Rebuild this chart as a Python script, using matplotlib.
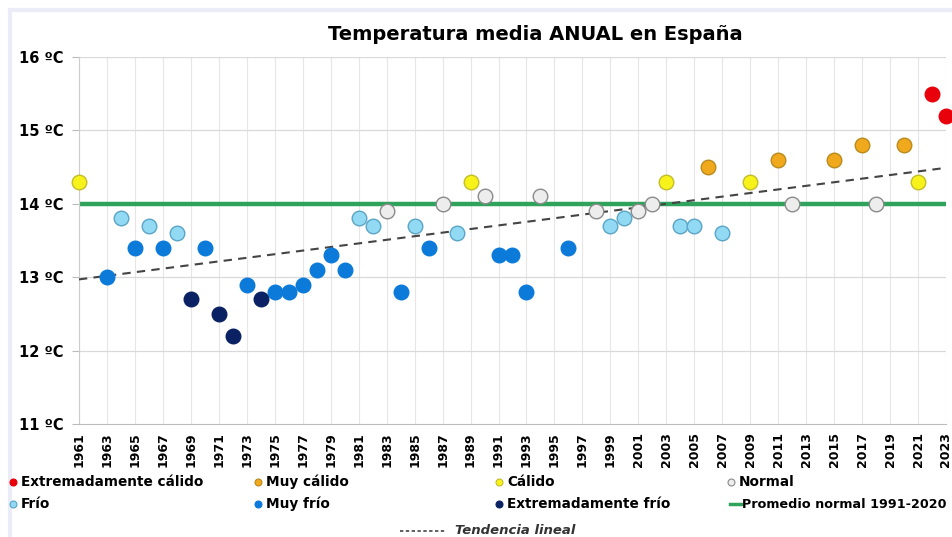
import numpy as np
import matplotlib.pyplot as plt
from matplotlib.lines import Line2D
from matplotlib.patches import Rectangle

# annual mean temperature in Spain; years not drawn are left out
years = [1961, 1963, 1964, 1965, 1966, 1967, 1968, 1969, 1970, 1971, 1972, 1973,
         1974, 1975, 1976, 1977, 1978, 1979, 1980, 1981, 1982, 1983, 1984, 1985,
         1986, 1987, 1988, 1989, 1990, 1991, 1992, 1993, 1994, 1996, 1998, 1999,
         2000, 2001, 2002, 2003, 2004, 2005, 2006, 2007, 2009, 2011, 2012, 2015,
         2017, 2018, 2020, 2021, 2022, 2023]
temps = [14.3, 13.0, 13.8, 13.4, 13.7, 13.4, 13.6, 12.7, 13.4, 12.5, 12.2, 12.9,
         12.7, 12.8, 12.8, 12.9, 13.1, 13.3, 13.1, 13.8, 13.7, 13.9, 12.8, 13.7,
         13.4, 14.0, 13.6, 14.3, 14.1, 13.3, 13.3, 12.8, 14.1, 13.4, 13.9, 13.7,
         13.8, 13.9, 14.0, 14.3, 13.7, 13.7, 14.5, 13.6, 14.3, 14.6, 14.0, 14.6,
         14.8, 14.0, 14.8, 14.3, 15.5, 15.2]
# EC extremadamente cálido, MC muy cálido, C cálido, N normal,
# F frío, MF muy frío, EF extremadamente frío
cats = ['C', 'MF', 'F', 'MF', 'F', 'MF', 'F', 'EF', 'MF', 'EF', 'EF', 'MF',
        'EF', 'MF', 'MF', 'MF', 'MF', 'MF', 'MF', 'F', 'F', 'N', 'MF', 'F',
        'MF', 'N', 'F', 'C', 'N', 'MF', 'MF', 'MF', 'N', 'MF', 'N', 'F',
        'F', 'N', 'N', 'C', 'F', 'F', 'MC', 'F', 'C', 'MC', 'N', 'MC',
        'MC', 'N', 'MC', 'C', 'EC', 'EC']

normal_mean = 14.0
trend_years = [1961, 2023]
trend_vals = [12.97, 14.49]

cat_order = ['EC', 'MC', 'C', 'N', 'F', 'MF', 'EF']
cat_names = {'EC': 'Extremadamente cálido', 'MC': 'Muy cálido', 'C': 'Cálido',
             'N': 'Normal', 'F': 'Frío', 'MF': 'Muy frío',
             'EF': 'Extremadamente frío'}
face = {'EC': '#e8000b', 'MC': '#f0a81c', 'C': '#f7f21a', 'N': '#ededed',
        'F': '#92d9f3', 'MF': '#0b7ad9', 'EF': '#0a2263'}
edge = {'EC': '#e8000b', 'MC': '#b98a1e', 'C': '#c4bd2a', 'N': '#8a8a8a',
        'F': '#5aa5c6', 'MF': '#0b7ad9', 'EF': '#0a2263'}

plt.rcParams['font.family'] = 'DejaVu Sans'

fig = plt.figure(figsize=(9.53, 5.37), dpi=100)
fig.patch.set_facecolor('white')
fig.add_artist(Rectangle((10 / 953, -0.05), 1.1, 1 - 10 / 537 + 0.05,
                         transform=fig.transFigure, fill=False,
                         edgecolor='#ececf8', linewidth=3))

ax = fig.add_axes([79 / 953, 1 - 424 / 537, (946 - 79) / 953, (424 - 57) / 537])
ax.set_xlim(1961, 2023)
ax.set_ylim(11, 16)

yrs = np.array(years)
tmp = np.array(temps)
cc = np.array(cats)
for c in cat_order:
    m = cc == c
    ax.scatter(yrs[m], tmp[m], s=110, color=face[c], edgecolors=edge[c],
               linewidths=1, zorder=4, clip_on=False)

ax.axhline(normal_mean, color='#2fa35c', lw=3.2, zorder=2)
ax.plot(trend_years, trend_vals, color='#444444', lw=1.5, ls=(0, (4, 3)), zorder=3)

xt = list(range(1961, 2024, 2))
ax.set_xticks(xt)
ax.set_xticklabels([str(y) for y in xt], rotation=90, fontsize=9, fontweight='bold')
ax.set_yticks(range(11, 17))
ax.set_yticklabels(['%d ºC' % v for v in range(11, 17)], fontsize=10.5,
                   fontweight='bold')
ax.tick_params(axis='x', length=0, pad=6)
ax.tick_params(axis='y', length=5, pad=6, color='#bbbbbb')
for x in xt:
    ax.axvline(x, color='#e6e6e6', lw=0.8, zorder=0)
for y in range(12, 17):
    ax.axhline(y, color='#d9d9d9', lw=0.9, zorder=0)
for s in ['top', 'right']:
    ax.spines[s].set_visible(False)
ax.spines['left'].set_color('#cccccc')
ax.spines['bottom'].set_color('#bbbbbb')

fig.text(535 / 953, 1 - 35 / 537, 'Temperatura media ANUAL en España',
         ha='center', va='center', fontsize=14, fontweight='bold')

# legend drawn by hand, two rows of four
col_x = [13, 258, 499, 731]
row_y = [482, 504]
entries = [['EC', 'MC', 'C', 'N'], ['F', 'MF', 'EF', 'mean']]
for r, row in enumerate(entries):
    for k, c in enumerate(row):
        x = col_x[k] / 953
        y = 1 - row_y[r] / 537
        if c == 'mean':
            fig.add_artist(Line2D([x - 1 / 953, x + 11 / 953], [y, y],
                                  transform=fig.transFigure, color='#2fa35c', lw=2.5))
            fig.text(x + 11 / 953, y, 'Promedio normal 1991-2020', ha='left',
                     va='center', fontsize=9.2, fontweight='bold')
        else:
            fig.add_artist(Line2D([x], [y], transform=fig.transFigure, marker='o',
                                  ms=5, color=face[c], mec=edge[c], mew=0.8, ls=''))
            fig.text(x + 8 / 953, y, cat_names[c], ha='left', va='center',
                     fontsize=9.8, fontweight='bold')

fig.add_artist(Line2D([400 / 953, 445 / 953], [1 - 531 / 537] * 2,
                      transform=fig.transFigure, color='#444444', lw=1.2,
                      ls=(0, (2, 1.5))))
fig.text(455 / 953, 1 - 530 / 537, 'Tendencia lineal', ha='left', va='center',
         fontsize=9.5, fontweight='bold', style='italic', color='#333333')

fig.savefig('out.png', dpi=100)
